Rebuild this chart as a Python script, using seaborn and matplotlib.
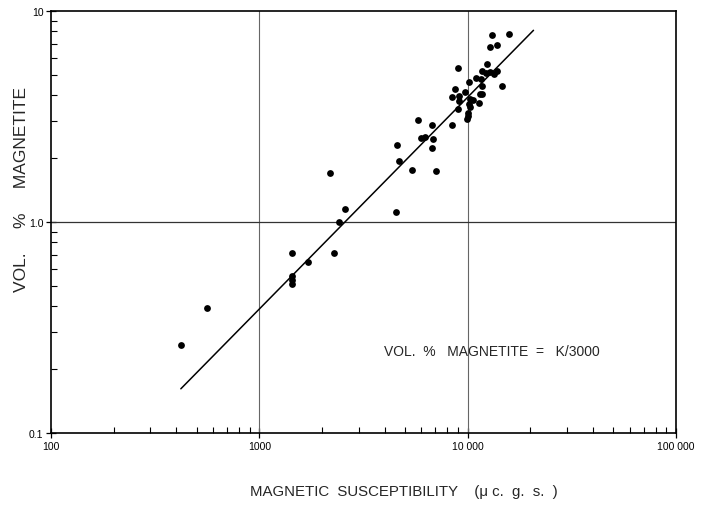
import matplotlib
matplotlib.use("Agg")
import matplotlib.pyplot as plt
import matplotlib.ticker as mticker
import seaborn as sns
import pandas as pd

# Magnetic susceptibility (micro c.g.s.) and vol. % magnetite
susceptibility = [420, 560, 1430, 1430, 1430, 1430, 1710, 2280, 2400, 2580, 2190,
                  4530, 4580, 4690, 5410, 7070, 5950, 6250, 6820, 6750, 5780, 6770,
                  8450, 8450, 8730, 9070, 9090, 9020, 9020, 9680, 10150, 10300, 10580,
                  10150, 10230, 10080, 9900, 9990, 10970, 11630, 11770, 12430, 13790,
                  11770, 11430, 11770, 11300, 14580, 13140, 15800, 12850, 13840,
                  12250, 12810, 13430]
vol_magnetite = [0.26, 0.39, 0.71, 0.557, 0.533, 0.508, 0.648, 0.713, 1.0, 1.15, 1.70,
                 1.12, 2.32, 1.94, 1.77, 1.74, 2.49, 2.53, 2.48, 2.24, 3.05, 2.88,
                 2.88, 3.91, 4.25, 3.94, 3.76, 3.43, 5.37, 4.12, 4.61, 3.83, 3.77,
                 3.62, 3.50, 3.29, 3.08, 3.18, 4.81, 4.75, 5.21, 5.59, 5.21,
                 4.43, 4.03, 4.03, 3.65, 4.41, 7.70, 7.80, 6.77, 6.92,
                 5.07, 5.12, 5.03]

# Fitted line endpoints (vol. % magnetite = K/3000 as drawn)
line_k = [420, 20700]
line_v = [0.162, 8.1]

x_ticks = [100, 1000, 10000, 100000]
x_tick_labels = ["100", "1000", "10 000", "100 000"]
y_ticks = [0.1, 1.0, 10]
y_tick_labels = ["0.1", "1.0", "10"]

sns.set_style("ticks")
plt.rcParams["font.family"] = ["Liberation Sans", "DejaVu Sans"]

fig = plt.figure(figsize=(7.1, 5.06), dpi=100)
ax = fig.add_axes([51 / 710, 1 - 434 / 506, (676 - 51) / 710, (434 - 12) / 506])

pts = pd.DataFrame({"k": susceptibility, "v": vol_magnetite})
ln = pd.DataFrame({"k": line_k, "v": line_v})

sns.lineplot(data=ln, x="k", y="v", ax=ax, color="black", linewidth=1.1,
             estimator=None, sort=False)
sns.scatterplot(data=pts, x="k", y="v", ax=ax, color="black", s=24,
                edgecolor="black", linewidth=0, zorder=3)

ax.set_xscale("log")
ax.set_yscale("log")
ax.set_xlim(100, 100000)
ax.set_ylim(0.1, 10)

ax.xaxis.set_major_locator(mticker.FixedLocator(x_ticks))
ax.xaxis.set_major_formatter(mticker.FixedFormatter(x_tick_labels))
ax.yaxis.set_major_locator(mticker.FixedLocator(y_ticks))
ax.yaxis.set_major_formatter(mticker.FixedFormatter(y_tick_labels))
ax.xaxis.set_minor_locator(mticker.LogLocator(base=10, subs=range(2, 10)))
ax.yaxis.set_minor_locator(mticker.LogLocator(base=10, subs=range(2, 10)))
ax.xaxis.set_minor_formatter(mticker.NullFormatter())
ax.yaxis.set_minor_formatter(mticker.NullFormatter())

ax.tick_params(which="major", direction="inout", length=7, width=0.9,
               labelsize=7.5, colors="black", pad=2)
ax.tick_params(which="minor", direction="in", length=4, width=0.8, colors="black")

for g in [1000, 10000]:
    ax.axvline(g, color="#666666", linewidth=0.8, zorder=1)
ax.axhline(1.0, color="#333333", linewidth=0.9, zorder=1)

for sp in ax.spines.values():
    sp.set_visible(True)
    sp.set_color("black")
    sp.set_linewidth(1.2)

ax.set_xlabel("")
ax.set_ylabel("")

ax.text(0.533, 0.195, "VOL.  %   MAGNETITE  =   K/3000", transform=ax.transAxes,
        fontsize=10, ha="left", va="center")

fig.text(250 / 710, 1 - 492 / 506, "MAGNETIC  SUSCEPTIBILITY    (\u03bc c.  g.  s.  )",
         fontsize=10.8, ha="left", va="center")
fig.text(22 / 710, 1 - 190 / 506, "VOL.     %     MAGNETITE", fontsize=12.5,
         rotation=90, ha="center", va="center")

fig.savefig("out.png", dpi=100)
